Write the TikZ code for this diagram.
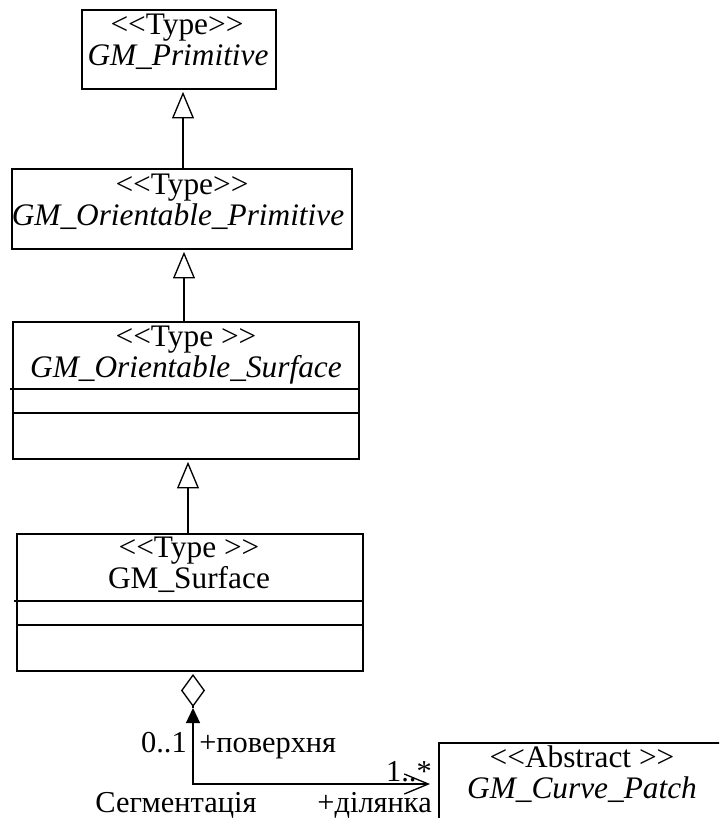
\documentclass[tikz,border=0pt]{standalone}
\usepackage{fontspec}
\setmainfont{Liberation Serif}
\usetikzlibrary{arrows.meta}
% stereotype brackets kept as plain angle signs
\newcommand\stype[1]{<\kern0pt<#1>\kern0pt>}
\begin{document}
\begin{tikzpicture}[x=0.75pt,y=-0.75pt,
  box/.style={draw, line width=1.2pt, inner sep=0pt},
  txt/.style={anchor=base, inner sep=0pt, text height=15pt, text depth=4pt,
    font=\fontsize{23.5}{26}\selectfont},
  lbl/.style={inner sep=0pt, font=\fontsize{22.8}{26}\selectfont},
  div/.style={line width=1.1pt},
  gen/.style={line width=1pt, -{Triangle[open, length=20pt, width=16.5pt, line width=1pt]}},
  seg/.style={line width=1pt,
    {Triangle[length=11.25pt, width=10.5pt]}-{Straight Barb[length=18pt, width=15pt, line width=1pt]}},
  agg/.style={line width=1pt, {Diamond[open, length=24.75pt, width=18pt, line width=1pt]}-}]
\useasboundingbox (0,0) rectangle (719,818);
\clip (0,0) rectangle (719,818);

% class boxes
\node[box, minimum width=145.5pt, minimum height=59.25pt] (b1) at (179,49.5) {};
\node[box, minimum width=255pt, minimum height=60pt] (b2) at (182,209) {};
\node[box, minimum width=259.5pt, minimum height=102.75pt] (b3) at (186,390.5) {};
\node[box, minimum width=259.5pt, minimum height=102.75pt] (b4) at (190,602.5) {};
\node[box, minimum width=214.5pt, minimum height=82.5pt] (b5) at (582,798) {};

% compartment lines
\draw[div] (10,389) -- (360,389);
\draw[div] (13,413) -- (360,413);
\draw[div] (14,601) -- (363,601);
\draw[div] (17,625) -- (363,625);

% class names
\node[txt] (t1a) at (177,34) {\stype{Type}};
\node[txt] (t1b) at (178,65) {\itshape GM\_Primitive};
\node[txt] (t2a) at (182,194) {\stype{Type}};
\node[txt] (t2b) at (178,225) {\itshape GM\_Orientable\_Primitive};
\node[txt] (t3a) at (186,346) {\stype{Type }};
\node[txt] (t3b) at (186,377) {\itshape GM\_Orientable\_Surface};
\node[txt] (t4a) at (189,557) {\stype{Type }};
\node[txt] (t4b) at (189,588) {GM\_Surface};
\node[txt] (t5a) at (582,767) {\stype{Abstract }};
\node[txt] (t5b) at (582,798) {\itshape GM\_Curve\_Patch};

% generalisations
\coordinate (g1) at (183,0);
\coordinate (g2) at (184,0);
\coordinate (g3) at (188,0);
\draw[gen] (b2.north -| g1) -- ([yshift=-1.5pt]b1.south -| g1);
\draw[gen] (b3.north -| g2) -- ([yshift=-1.5pt]b2.south -| g2);
\draw[gen] (b4.north -| g3) -- ([yshift=-1.5pt]b3.south -| g3);

% association "Сегментація"
\coordinate (dtop) at (193,674);
\coordinate (dbot) at (193,708);
\coordinate (segend) at (430,784);
\draw[agg] (dtop) -- (dbot);
\draw[seg] (dbot) |- (segend);

% association labels
\node[lbl, anchor=base east] (m1) at (187,752) {0..1};
\node[lbl, anchor=base west] (r1) at (199,752) {+поверхня};
\node[lbl, anchor=base east] (m2) at (432,781) {1..*};
\node[lbl, anchor=base east] (r2) at (432,812) {+ділянка};
\node[lbl, anchor=base] (an) at (176,812) {Сегментація};
\end{tikzpicture}
\end{document}
